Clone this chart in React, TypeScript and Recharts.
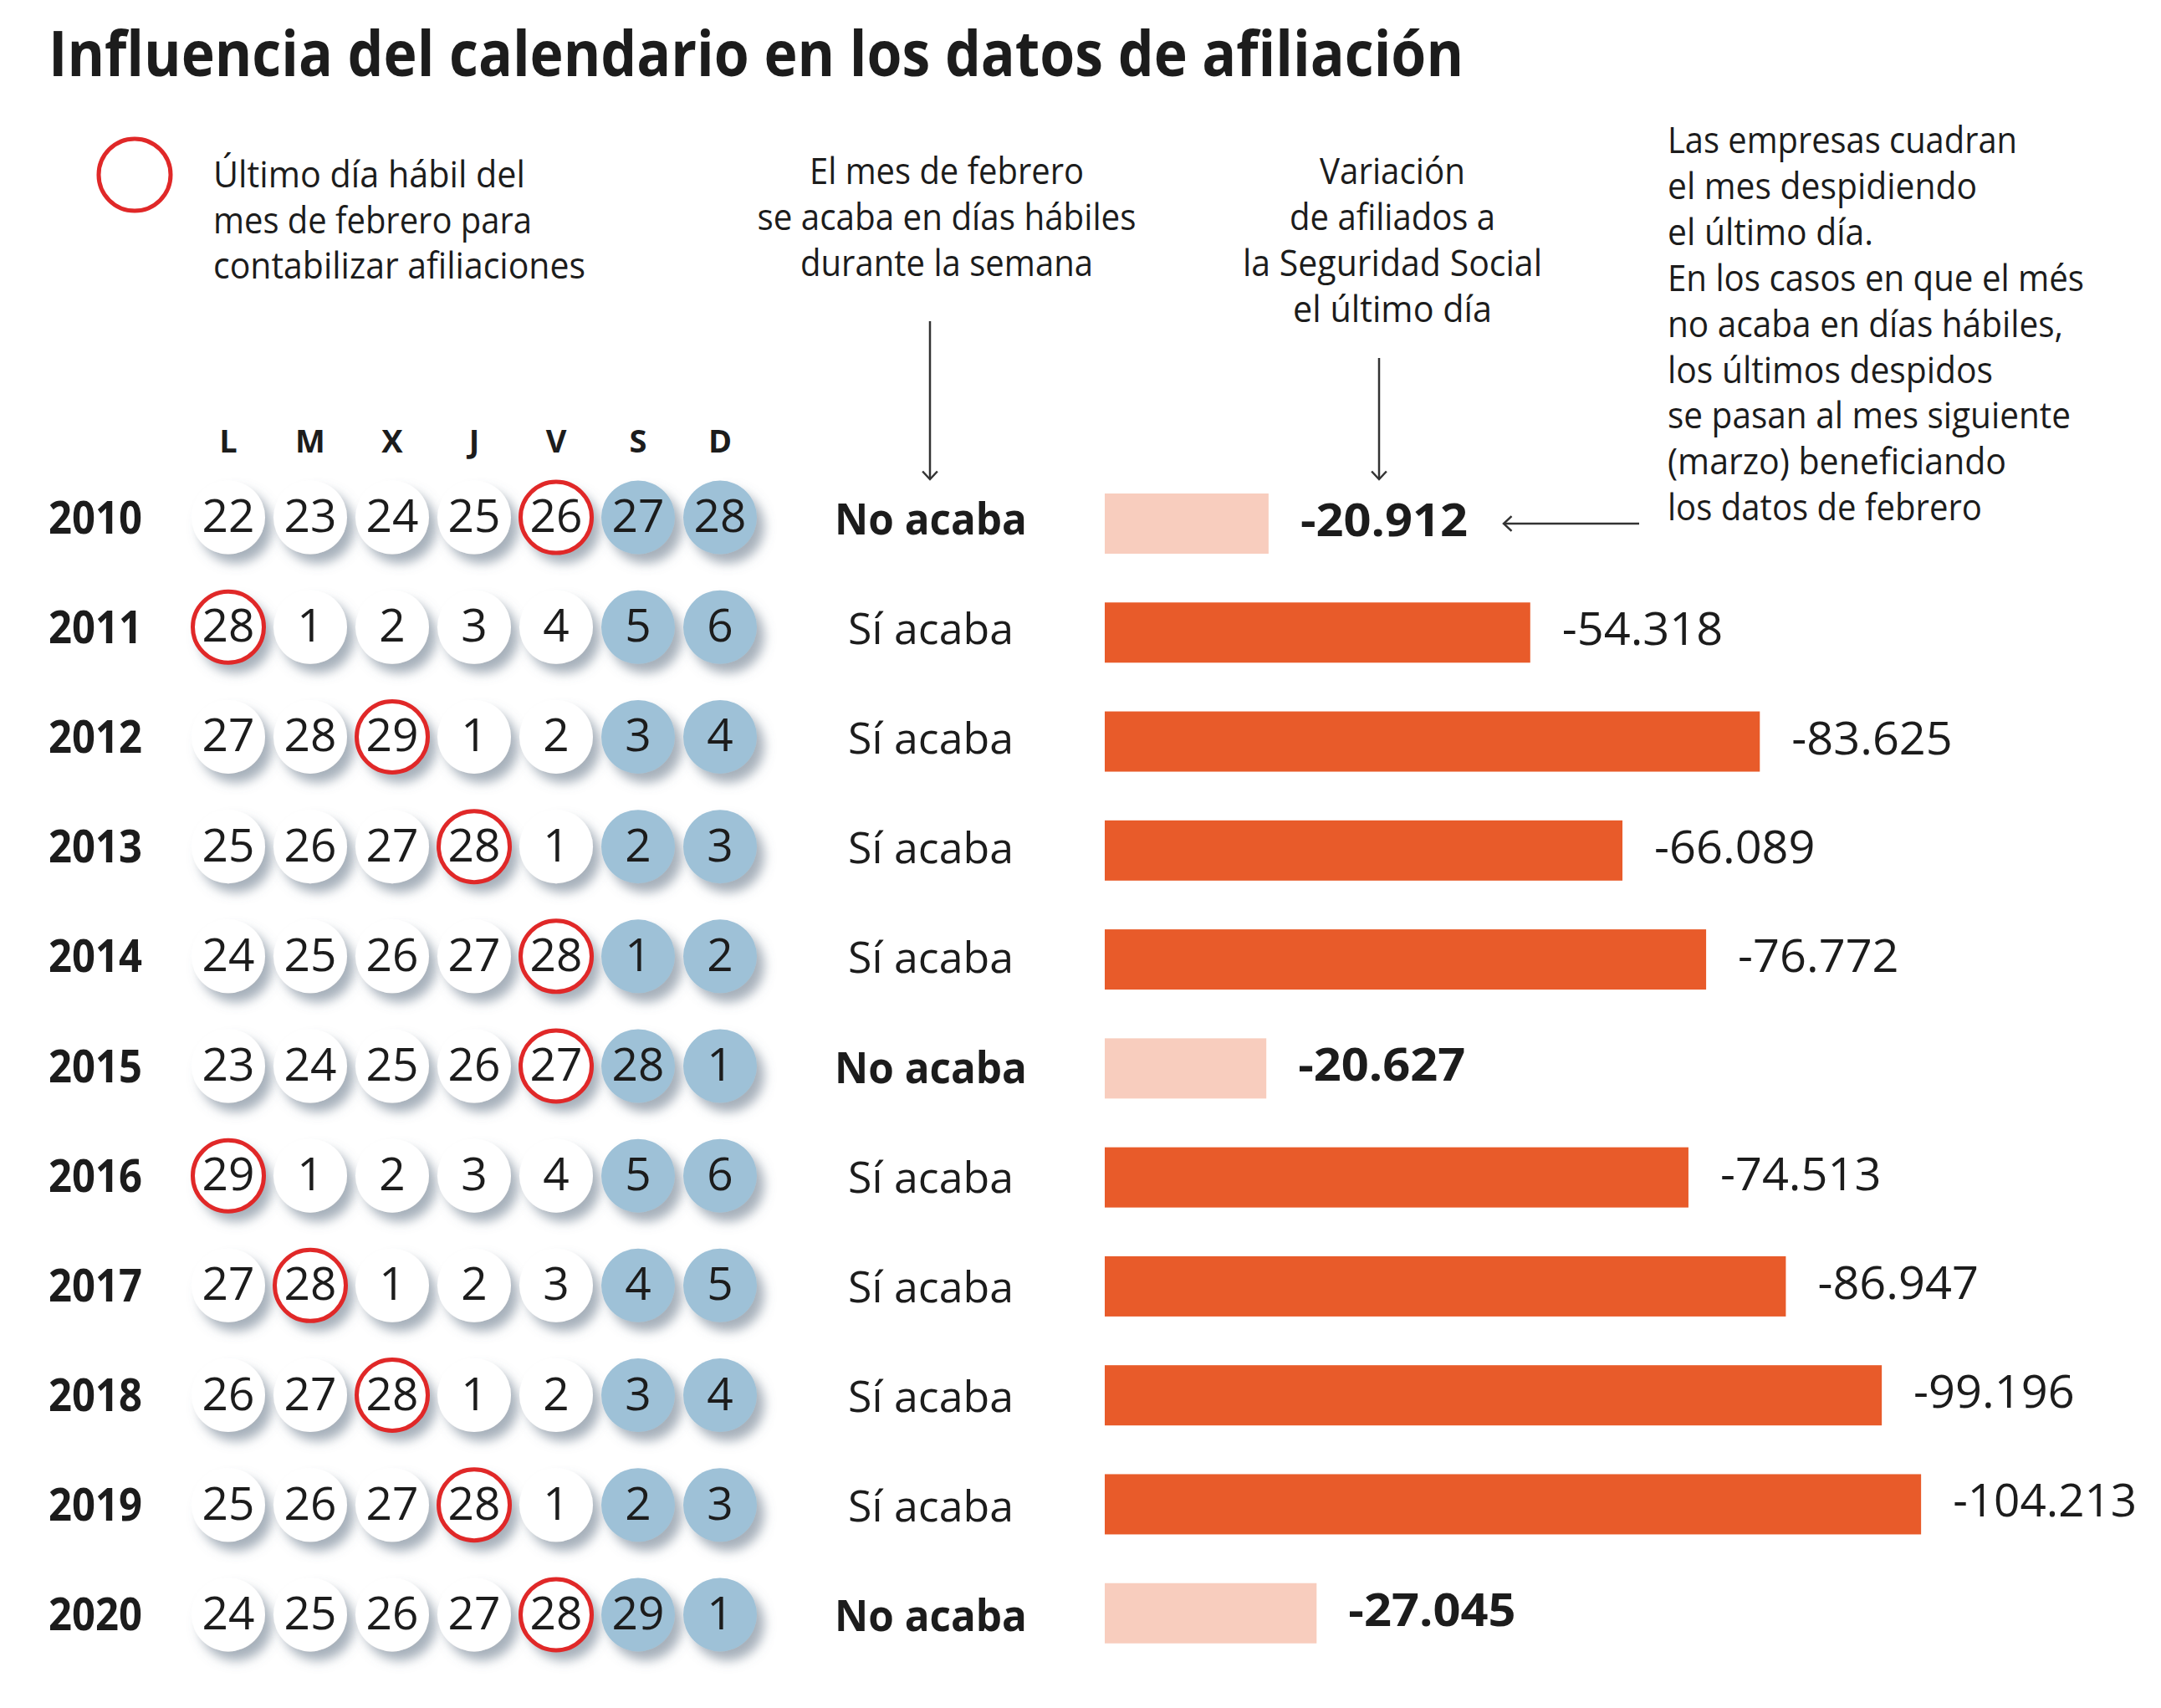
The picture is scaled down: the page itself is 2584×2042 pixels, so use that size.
import React from 'react'
import { ComposedChart, Bar, Scatter, XAxis, YAxis } from 'recharts'

// --- data read from the graphic ---
const years = ['2010', '2011', '2012', '2013', '2014', '2015', '2016', '2017', '2018', '2019', '2020']
const variation = [-20912, -54318, -83625, -66089, -76772, -20627, -74513, -86947, -99196, -104213, -27045]
const endsOnWorkday = [false, true, true, true, true, false, true, true, true, true, false]
const lastWeekDays = [
  [22, 23, 24, 25, 26, 27, 28],
  [28, 1, 2, 3, 4, 5, 6],
  [27, 28, 29, 1, 2, 3, 4],
  [25, 26, 27, 28, 1, 2, 3],
  [24, 25, 26, 27, 28, 1, 2],
  [23, 24, 25, 26, 27, 28, 1],
  [29, 1, 2, 3, 4, 5, 6],
  [27, 28, 1, 2, 3, 4, 5],
  [26, 27, 28, 1, 2, 3, 4],
  [25, 26, 27, 28, 1, 2, 3],
  [24, 25, 26, 27, 28, 29, 1],
]
// column (0 = lunes) of the last working day of February
const lastWorkday = [4, 0, 2, 3, 4, 4, 0, 1, 2, 3, 4]
const dayHeaders = ['L', 'M', 'X', 'J', 'V', 'S', 'D']

const title = 'Influencia del calendario en los datos de afiliación'
const legendLines = ['Último día hábil del', 'mes de febrero para', 'contabilizar afiliaciones']
const endsLines = ['El mes de febrero', 'se acaba en días hábiles', 'durante la semana']
const variationLines = ['Variación', 'de afiliados a', 'la Seguridad Social', 'el último día']
const noteLines = [
  'Las empresas cuadran',
  'el mes despidiendo',
  'el último día.',
  'En los casos en que el més',
  'no acaba en días hábiles,',
  'los últimos despidos',
  'se pasan al mes siguiente',
  '(marzo) beneficiando',
  'los datos de febrero',
]

// --- styling / layout ---
const FONT = "'Open Sans', 'Noto Sans', sans-serif"
const INK = '#1c1c1c'
const ORANGE = '#E85B2A'
const PINK = '#F8CDBE'
const RED = '#E02828'
const WEEKEND = '#9EC1D7'
const ARROW = '#333'

const legendW = [373, 381, 445]
const endsW = [328, 453, 350]
const variationW = [174, 246, 358, 238]
const noteW = [418, 370, 246, 498, 473, 389, 482, 405, 376]

const rows = years.map((year, i) => ({
  year,
  variation: variation[i],
  drop: Math.abs(variation[i]),
  ends: endsOnWorkday[i],
}))

const calendar = years.flatMap((year, i) =>
  lastWeekDays[i].map((num, day) => ({
    year,
    day,
    num,
    weekend: day >= 5,
    last: day === lastWorkday[i],
  }))
)

const fmt = (v: number) => '-' + String(Math.abs(v)).replace(/\B(?=(\d{3})+(?!\d))/g, '.')

function Txt({ x, y, size, w, bold, anchor = 'start', children }: any) {
  return (
    <text
      x={x}
      y={y}
      fontFamily={FONT}
      fontSize={size}
      fontWeight={bold ? 700 : 400}
      fill={INK}
      textAnchor={anchor}
      textLength={w}
      lengthAdjust={w ? 'spacingAndGlyphs' : undefined}
    >
      {children}
    </text>
  )
}

const CalDot = (props: any) => {
  const { cx, cy, payload } = props
  return (
    <g>
      <circle cx={cx} cy={cy} r={44} fill={payload.weekend ? WEEKEND : '#fff'} filter="url(#calShadow)" />
      {payload.last && <circle cx={cx} cy={cy} r={42.5} fill="none" stroke={RED} strokeWidth={5} />}
      <Txt x={cx} y={cy + 17.5} size={55} anchor="middle">
        {payload.num}
      </Txt>
    </g>
  )
}

const DropBar = (props: any) => {
  const { x, y, width, height, payload } = props
  const bold = !payload.ends
  const label = fmt(payload.variation)
  return (
    <g>
      <rect x={x} y={y} width={width} height={height} fill={payload.ends ? ORANGE : PINK} />
      <Txt x={x + width + 38} y={y + height / 2 + 15} size={54} bold={bold} w={label.length * (bold ? 28.6 : 27.5)}>
        {label}
      </Txt>
    </g>
  )
}

const RowTick = (props: any) => {
  const { y, payload } = props
  const ends = endsOnWorkday[years.indexOf(String(payload.value))]
  return (
    <g>
      <Txt x={58} y={y + 19} size={53} bold w={112}>
        {payload.value}
      </Txt>
      <Txt x={1113} y={y + 20} size={52} bold={!ends} anchor="middle" w={ends ? 198 : 230}>
        {ends ? 'Sí acaba' : 'No acaba'}
      </Txt>
    </g>
  )
}

const DayTick = (props: any) => {
  const { x, y, payload } = props
  return (
    <Txt x={x} y={y} size={38} bold anchor="middle">
      {dayHeaders[payload.value]}
    </Txt>
  )
}

function Arrow({ x1, y1, x2, y2 }: any) {
  const a = Math.atan2(y2 - y1, x2 - x1)
  const h = 13
  const s = 0.75
  const p1 = [x2 - h * Math.cos(a - s), y2 - h * Math.sin(a - s)]
  const p2 = [x2 - h * Math.cos(a + s), y2 - h * Math.sin(a + s)]
  return (
    <g stroke={ARROW} strokeWidth={2.5} fill="none">
      <line x1={x1} y1={y1} x2={x2} y2={y2} />
      <polyline points={`${p1[0]},${p1[1]} ${x2},${y2} ${p2[0]},${p2[1]}`} />
    </g>
  )
}

export default function App() {
  return (
    <div style={{ position: 'relative', width: 2584, height: 2042, background: '#fff' }}>
      <style>{'body{margin:0}'}</style>
      <svg width={0} height={0} style={{ position: 'absolute' }}>
        <defs>
          <filter id="calShadow" x="-40%" y="-40%" width="190%" height="190%">
            <feDropShadow dx="9" dy="11" stdDeviation="6.5" floodColor="#5f6f84" floodOpacity="0.55" />
          </filter>
        </defs>
      </svg>

      <div style={{ position: 'absolute', left: 0, top: 0 }}>
        <ComposedChart
          width={2584}
          height={2042}
          layout="vertical"
          data={rows}
          margin={{ top: 493, right: 0, bottom: 46, left: 0 }}
        >
          <XAxis xAxisId="val" type="number" dataKey="drop" domain={[0, 120000]} padding={{ left: 1320, right: 139 }} hide />
          <XAxis
            xAxisId="cal"
            type="number"
            dataKey="day"
            orientation="top"
            domain={[0, 6]}
            ticks={[0, 1, 2, 3, 4, 5, 6]}
            interval={0}
            padding={{ left: 272, right: 1723 }}
            height={60}
            axisLine={false}
            tickLine={false}
            tickSize={0}
            tickMargin={12}
            tick={<DayTick />}
          />
          <YAxis yAxisId="rows" type="category" dataKey="year" padding={{ top: 8, bottom: 2 }} hide />
          <YAxis
            yAxisId="cal"
            type="category"
            dataKey="year"
            allowDuplicatedCategory={false}
            width={1}
            interval={0}
            axisLine={false}
            tickLine={false}
            tick={<RowTick />}
          />
          <Bar xAxisId="val" yAxisId="rows" dataKey="drop" barSize={72} shape={<DropBar />} isAnimationActive={false} />
          <Scatter xAxisId="cal" yAxisId="cal" data={calendar} shape={<CalDot />} isAnimationActive={false} />
        </ComposedChart>
      </div>

      <svg width={2584} height={2042} style={{ position: 'absolute', left: 0, top: 0, pointerEvents: 'none' }}>
        <Txt x={58} y={91} size={76} bold w={1692}>
          {title}
        </Txt>

        <circle cx={161} cy={209} r={43} fill="none" stroke={RED} strokeWidth={5} />
        {legendLines.map((t, i) => (
          <Txt key={t} x={255} y={224 + i * 54.5} size={44} w={legendW[i]}>
            {t}
          </Txt>
        ))}

        {endsLines.map((t, i) => (
          <Txt key={t} x={1132} y={220 + i * 55} size={44} anchor="middle" w={endsW[i]}>
            {t}
          </Txt>
        ))}
        {variationLines.map((t, i) => (
          <Txt key={t} x={1665} y={220 + i * 55} size={44} anchor="middle" w={variationW[i]}>
            {t}
          </Txt>
        ))}
        {noteLines.map((t, i) => (
          <Txt key={t} x={1994} y={183 + i * 54.9} size={44} w={noteW[i]}>
            {t}
          </Txt>
        ))}

        <Arrow x1={1112} y1={384} x2={1112} y2={573} />
        <Arrow x1={1649} y1={428} x2={1649} y2={573} />
        <Arrow x1={1960} y1={626} x2={1798} y2={626} />
      </svg>
    </div>
  )
}
